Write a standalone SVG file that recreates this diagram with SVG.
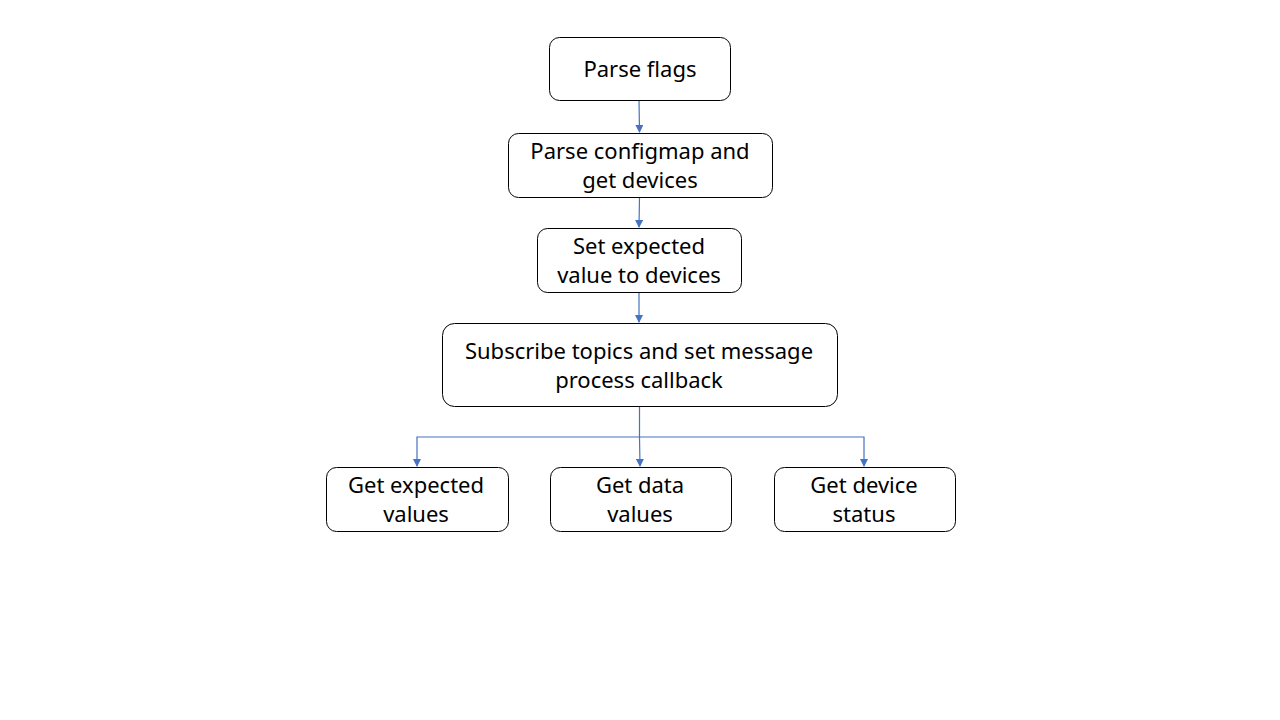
<svg xmlns="http://www.w3.org/2000/svg" width="1280" height="720" viewBox="0 0 1280 720">
<style>
.box{fill:#fff;stroke:#000;stroke-width:1}
.t{font-family:"Noto Sans","Liberation Sans",sans-serif;font-size:22px;fill:#000;text-anchor:middle}
.c{fill:none;stroke:#4472C4;stroke-width:1.2}
</style>
<defs>
<marker id="ah" markerWidth="8" markerHeight="8" refX="7" refY="4" orient="auto" markerUnits="userSpaceOnUse">
<path d="M0,0 L8,4 L0,8 Z" fill="#4472C4"/>
</marker>
</defs>
<rect width="1280" height="720" fill="#fff"/>
<g id="connectors">
<path class="c" d="M639,100 L639.5,132" marker-end="url(#ah)"/>
<path class="c" d="M639.5,197 L639,227" marker-end="url(#ah)"/>
<path class="c" d="M639,292 L639,322" marker-end="url(#ah)"/>
<path class="c" d="M639.5,406 L639.5,437 L417,437 L417,466" marker-end="url(#ah)"/>
<path class="c" d="M639.5,437 L640,466" marker-end="url(#ah)"/>
<path class="c" d="M639.5,437 L864,437 L864,466" marker-end="url(#ah)"/>
</g>
<g id="n1"><rect class="box" x="549.5" y="37.5" width="181" height="63" rx="10"/><text class="t" x="640" y="77">Parse flags</text></g>
<g id="n2"><rect class="box" x="508.5" y="133.5" width="264" height="64" rx="10"/><text class="t" x="640" y="159">Parse configmap and</text><text class="t" x="640" y="188">get devices</text></g>
<g id="n3"><rect class="box" x="537.5" y="228.5" width="204" height="64" rx="10"/><text class="t" x="639" y="254">Set expected</text><text class="t" x="639" y="283">value to devices</text></g>
<g id="n4"><rect class="box" x="442.5" y="323.5" width="395" height="83" rx="12"/><text class="t" x="639" y="359">Subscribe topics and set message</text><text class="t" x="639" y="388">process callback</text></g>
<g id="n5"><rect class="box" x="326.5" y="467.5" width="182" height="64" rx="10"/><text class="t" x="416" y="493">Get expected</text><text class="t" x="416" y="522">values</text></g>
<g id="n6"><rect class="box" x="550.5" y="467.5" width="181" height="64" rx="10"/><text class="t" x="640" y="493">Get data</text><text class="t" x="640" y="522">values</text></g>
<g id="n7"><rect class="box" x="774.5" y="467.5" width="181" height="64" rx="10"/><text class="t" x="864" y="493">Get device</text><text class="t" x="864" y="522">status</text></g>
</svg>
